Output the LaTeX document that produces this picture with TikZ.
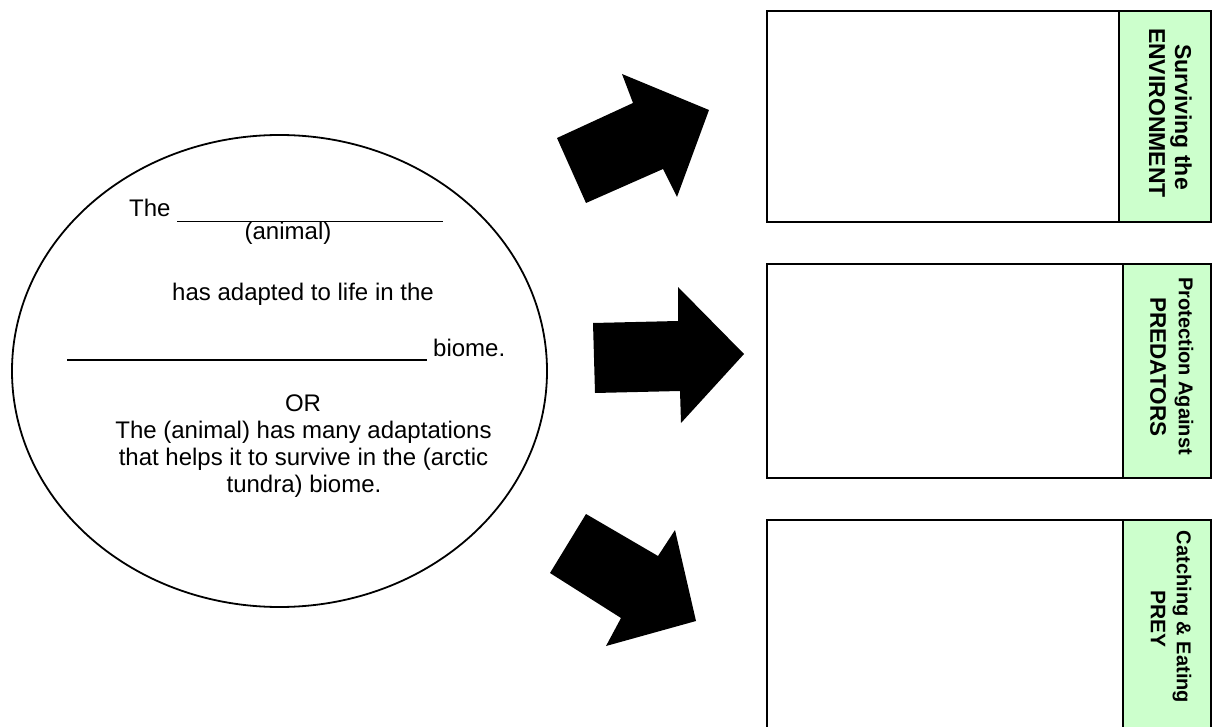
\documentclass[tikz,border=0pt]{standalone}
\usepackage{fontspec}
\setmainfont{Liberation Sans}
\usetikzlibrary{shapes.geometric}
\definecolor{stripgreen}{HTML}{CCFFCC}
\begin{document}
\begin{tikzpicture}[x=1pt,y=-1pt,
  framebox/.style={draw=black, line width=2pt, fill=white, inner sep=0pt, anchor=north west},
  stripbox/.style={draw=black, line width=2pt, fill=stripgreen, inner sep=0pt, anchor=north west},
  blockarrow/.style={fill=black, draw=none},
  rule/.style={draw=black, line width=1.8pt},
  body/.style={font=\fontsize{24}{27}\selectfont, anchor=base, inner sep=0pt},
  striptext/.style={rotate=-90, inner sep=0pt, font=\bfseries\fontsize{#1}{#1}\selectfont},
  striptext/.default=23
]
\useasboundingbox (0,0) rectangle (1212,727);

% left oval with the prompt text
\node[draw=black, line width=1.8pt, ellipse, minimum width=535pt, minimum height=472pt, inner sep=0pt] (oval) at (279.5,371) {};

\node[body, anchor=base west] (the) at (129,217) {The};
\coordinate (blankA1) at (177,221.5);
\coordinate (blankA2) at (443,221.5);
\draw[rule] (blankA1) -- (blankA2);
\node[body] (animal) at (288,240) {(animal)};
\node[body] (adapted) at (303,300) {has adapted to life in the};
\coordinate (blankB1) at (67,360);
\coordinate (blankB2) at (427,360);
\draw[rule] (blankB1) -- (blankB2);
\node[body, anchor=base west] (biome) at (433,356) {biome.};
\node[body] (or) at (303,411) {OR};
\node[body] (alt1) at (303.5,438) {The (animal) has many adaptations};
\node[body] (alt2) at (303.5,465) {that helps it to survive in the (arctic};
\node[body] (alt3) at (304,492) {tundra) biome.};

% block arrows
\fill[blockarrow] (557,138) -- (633,103) -- (622,74) -- (709,110) -- (677,197) -- (663,169) -- (586,203) -- cycle;
\fill[blockarrow] (593,323) -- (678,321) -- (678,287) -- (744,354) -- (681,423) -- (680,391) -- (595,393) -- cycle;
\fill[blockarrow] (586,514) -- (658,556) -- (675,530) -- (696,621) -- (606,646) -- (621,618) -- (550,573) -- cycle;

% answer boxes with labelled green strips
\node[framebox, minimum width=444pt, minimum height=211pt] (box1) at (766,10) {};
\node[stripbox, minimum width=92pt, minimum height=211pt] (strip1) at (1118,10) {};
\node[framebox, minimum width=444pt, minimum height=214pt] (box2) at (766,263) {};
\node[stripbox, minimum width=88pt, minimum height=214pt] (strip2) at (1122,263) {};
\node[framebox, minimum width=444pt, minimum height=220pt] (box3) at (766,519) {};
\node[stripbox, minimum width=88pt, minimum height=220pt] (strip3) at (1122,519) {};

\node[striptext] (s1a) at (1181,117) {Surviving the};
\node[striptext] (s1b) at (1157,113) {ENVIRONMENT};
\node[striptext=20] (s2a) at (1184,366) {Protection Against};
\node[striptext=22.5] (s2b) at (1158,367) {PREDATORS};
\node[striptext=20] (s3a) at (1182,617) {Catching \& Eating};
\node[striptext=21] (s3b) at (1158,619) {PREY};
\end{tikzpicture}
\end{document}
